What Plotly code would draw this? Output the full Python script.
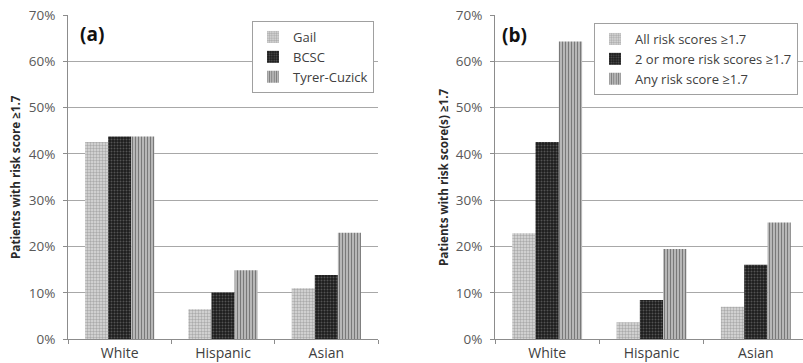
import plotly.graph_objects as go

categories = ["White", "Hispanic", "Asian"]

# Panel (a)
gail = [42.6, 6.5, 11.0]
bcsc = [43.8, 10.1, 13.9]
tyrer = [43.8, 14.9, 23.0]
names_a = ["Gail", "BCSC", "Tyrer-Cuzick"]

# Panel (b)
all_scores = [22.9, 3.7, 7.0]
two_more = [42.6, 8.5, 16.1]
any_score = [64.3, 19.5, 25.2]
names_b = ["All risk scores ≥1.7", "2 or more risk scores ≥1.7", "Any risk score ≥1.7"]

y_ticks = [0, 10, 20, 30, 40, 50, 60, 70]
y_ticklabels = [f"{v}%" for v in y_ticks]

FONT = "Open Sans"
W, H = 803, 363

styles = [
    dict(shape=".", bgcolor="#dcdcdc", fgcolor="#7a7a7a", size=3, solidity=0.5),
    dict(shape=".", bgcolor="#1c1c1c", fgcolor="#8a8a8a", size=3, solidity=0.35),
    dict(shape="|", bgcolor="#c4c4c4", fgcolor="#2e2e2e", size=3, solidity=0.45),
]
base_colors = ["#dcdcdc", "#1c1c1c", "#c4c4c4"]

fig = go.Figure()

for vals, name, st, col in zip([gail, bcsc, tyrer], names_a, styles, base_colors):
    fig.add_trace(go.Bar(x=categories, y=vals, name=name, xaxis="x", yaxis="y",
                         marker=dict(color=col, pattern=st, line=dict(width=0)),
                         legend="legend"))

for vals, name, st, col in zip([all_scores, two_more, any_score], names_b, styles, base_colors):
    fig.add_trace(go.Bar(x=categories, y=vals, name=name, xaxis="x2", yaxis="y2",
                         marker=dict(color=col, pattern=st, line=dict(width=0)),
                         legend="legend2"))

ydom = [(H - 339.3) / H, (H - 15) / H]

axis_common_x = dict(type="category", showline=True, linecolor="#8c8c8c", linewidth=1,
                     ticks="outside", tickson="boundaries", ticklen=4, tickcolor="#8c8c8c",
                     tickfont=dict(family=FONT, size=14, color="#404040"), showgrid=False,
                     zeroline=False, fixedrange=True, ticklabelstandoff=1, automargin=False)
axis_common_y = dict(range=[0, 70], tickvals=y_ticks, ticktext=y_ticklabels,
                     showline=True, linecolor="#8c8c8c", linewidth=1,
                     ticks="outside", ticklen=4, tickcolor="#8c8c8c",
                     tickfont=dict(family=FONT, size=13.5, color="#595959"),
                     showgrid=True, gridcolor="#a8a8a8", gridwidth=1, zeroline=False,
                     domain=ydom, ticklabelstandoff=5, automargin=False, fixedrange=True)

fig.update_layout(
    width=W, height=H,
    margin=dict(l=0, r=0, t=0, b=0, pad=0, autoexpand=False),
    paper_bgcolor="white", plot_bgcolor="white",
    barmode="group", bargap=0.33, bargroupgap=0,
    font=dict(family=FONT, color="#404040"),
    xaxis=dict(domain=[68 / W, 378 / W], range=[-0.5, 2.5], anchor="y", **axis_common_x),
    yaxis=dict(anchor="x", **axis_common_y),
    xaxis2=dict(domain=[495 / W, 1.0], range=[-0.5, 2.5 - 5 / 104.3], anchor="y2", **axis_common_x),
    yaxis2=dict(anchor="x2", **axis_common_y),
    legend=dict(x=252 / W, y=(H - 21) / H, xanchor="left", yanchor="top",
                bgcolor="white", bordercolor="#a0a0a0", borderwidth=1,
                font=dict(family=FONT, size=13, color="#404040"),
                tracegroupgap=0, itemwidth=30),
    legend2=dict(x=594 / W, y=(H - 23) / H, xanchor="left", yanchor="top",
                 bgcolor="white", bordercolor="#a0a0a0", borderwidth=1,
                 font=dict(family=FONT, size=13, color="#404040"),
                 tracegroupgap=0, itemwidth=30),
    showlegend=True,
    annotations=[
        dict(text="<b>(a)</b>", x=78 / W, y=(H - 34) / H, xref="paper", yref="paper",
             xanchor="left", yanchor="middle", showarrow=False,
             font=dict(family=FONT, size=19, color="#111")),
        dict(text="<b>(b)</b>", x=500 / W, y=(H - 35) / H, xref="paper", yref="paper",
             xanchor="left", yanchor="middle", showarrow=False,
             font=dict(family=FONT, size=19, color="#111")),
        dict(text="<b>Patients with risk score ≥1.7</b>", x=15 / W, y=(H - 177) / H,
             xref="paper", yref="paper", xanchor="center", yanchor="middle",
             textangle=-90, showarrow=False,
             font=dict(family=FONT, size=11.7, color="#2a2a2a")),
        dict(text="<b>Patients with risk score(s) ≥1.7</b>", x=443 / W, y=(H - 177) / H,
             xref="paper", yref="paper", xanchor="center", yanchor="middle",
             textangle=-90, showarrow=False,
             font=dict(family=FONT, size=11.7, color="#2a2a2a")),
    ],
)

fig.write_html(
    "out.html",
    config={"displayModeBar": False},
    post_script="document.body.style.margin='0';document.body.style.overflow='hidden';",
)
